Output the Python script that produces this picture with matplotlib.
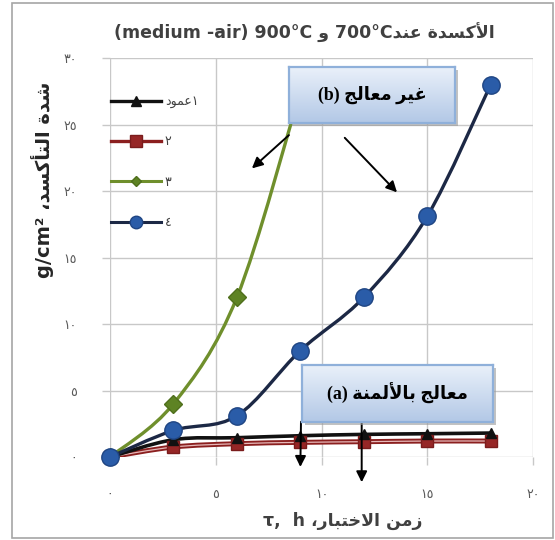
import numpy as np
import matplotlib
matplotlib.use("Agg")
import matplotlib.pyplot as plt
from matplotlib.path import Path
from matplotlib.patches import PathPatch, Rectangle
from matplotlib.lines import Line2D

# --- data ---
hours = [0, 3, 6, 9, 12, 15, 18]
s1 = [0, 1.3, 1.45, 1.6, 1.7, 1.75, 1.8]      # عمود١
s2 = [0, 0.75, 1.0, 1.1, 1.15, 1.2, 1.2]      # ٢
s3_hours = [0, 3, 6, 9]
s3 = [0, 4.0, 12.0, 27.5]                     # ٣
s4 = [0, 2.0, 3.1, 8.0, 12.0, 18.1, 28.0]     # ٤

legend_labels = ["عمود", "٢", "٣", "٤"]
xticks = [0, 5, 10, 15, 20]
yticks = [0, 5, 10, 15, 20, 25, 30]
xtick_labels = ["٠", "٥", "١٠", "١٥", "٢٠"]
ytick_labels = ["٠", "٥", "١٠", "١٥", "٢٠", "٢٥", "٣٠"]

# --- minimal arabic shaping (matplotlib has no bidi/shaping) ---
FORMS = {
    "ا": ("\uFE8D", "\uFE8E", None, None),
    "أ": ("\uFE83", "\uFE84", None, None),
    "ب": ("\uFE8F", "\uFE90", "\uFE91", "\uFE92"),
    "ة": ("\uFE93", "\uFE94", None, None),
    "ت": ("\uFE95", "\uFE96", "\uFE97", "\uFE98"),
    "ج": ("\uFE9D", "\uFE9E", "\uFE9F", "\uFEA0"),
    "خ": ("\uFEA5", "\uFEA6", "\uFEA7", "\uFEA8"),
    "د": ("\uFEA9", "\uFEAA", None, None),
    "ر": ("\uFEAD", "\uFEAE", None, None),
    "ز": ("\uFEAF", "\uFEB0", None, None),
    "س": ("\uFEB1", "\uFEB2", "\uFEB3", "\uFEB4"),
    "ش": ("\uFEB5", "\uFEB6", "\uFEB7", "\uFEB8"),
    "ع": ("\uFEC9", "\uFECA", "\uFECB", "\uFECC"),
    "غ": ("\uFECD", "\uFECE", "\uFECF", "\uFED0"),
    "ك": ("\uFED9", "\uFEDA", "\uFEDB", "\uFEDC"),
    "ل": ("\uFEDD", "\uFEDE", "\uFEDF", "\uFEE0"),
    "م": ("\uFEE1", "\uFEE2", "\uFEE3", "\uFEE4"),
    "ن": ("\uFEE5", "\uFEE6", "\uFEE7", "\uFEE8"),
    "و": ("\uFEED", "\uFEEE", None, None),
    "ي": ("\uFEF1", "\uFEF2", "\uFEF3", "\uFEF4"),
}
LAM_ALEF = {"ا": ("\uFEFB", "\uFEFC"), "أ": ("\uFEF7", "\uFEF8")}


def dual(c):
    return c in FORMS and FORMS[c][2] is not None


def shape(s):
    out = []
    i = 0
    while i < len(s):
        c = s[i]
        if c not in FORMS:
            out.append(c)
            i += 1
            continue
        jp = i > 0 and dual(s[i - 1])
        if c == "ل" and i + 1 < len(s) and s[i + 1] in LAM_ALEF:
            iso, fin = LAM_ALEF[s[i + 1]]
            out.append(fin if jp else iso)
            i += 2
            continue
        jn = dual(c) and i + 1 < len(s) and s[i + 1] in FORMS
        iso, fin, ini, med = FORMS[c]
        out.append(med if jp and jn else fin if jp else ini if jn else iso)
        i += 1
    return "".join(out)


def ar(s):
    return shape(s)[::-1]


def smooth_line(ax, x, y, **kw):
    # catmull-rom through the points, as cubic bezier segments
    p = np.column_stack([x, y]).astype(float)
    verts = [p[0]]
    codes = [Path.MOVETO]
    n = len(p)
    for i in range(n - 1):
        p0 = p[i - 1] if i > 0 else p[i]
        p3 = p[i + 2] if i + 2 < n else p[i + 1]
        c1 = p[i] + (p[i + 1] - p0) / 6
        c2 = p[i + 1] - (p3 - p[i]) / 6
        verts += [c1, c2, p[i + 1]]
        codes += [Path.CURVE4] * 3
    patch = PathPatch(Path(verts, codes), fill=False, capstyle="round", **kw)
    ax.add_patch(patch)
    return patch


W, H = 555, 540
fig = plt.figure(figsize=(W / 100, H / 100), dpi=100)
plt.rcParams["font.family"] = ["DejaVu Sans"]

# outer frame
fig.patches.append(Rectangle((12 / W, 1 - 538 / H), 541 / W, 535 / H, transform=fig.transFigure,
                             fill=False, ec="#a6a6a6", lw=1.2, zorder=0))

ax = fig.add_axes([110 / W, 1 - 457 / H, 423 / W, 399 / H])
ax.set_zorder(1)
ax.set_xlim(0, 20)
ax.set_ylim(0, 30)
for sp in ax.spines.values():
    sp.set_visible(False)
ax.set_xticks(xticks)
ax.set_xticklabels(xtick_labels)
ax.set_yticks(yticks)
ax.set_yticklabels(ytick_labels)
ax.grid(True, color="#c8c8c8", lw=1.0)
ax.tick_params(colors="#c8c8c8", labelcolor="#595959", labelsize=9, length=6, width=1.0)
ax.tick_params(axis="y", pad=18)
ax.tick_params(axis="x", pad=16)
ax.set_axisbelow(True)

# lines
smooth_line(ax, hours, s2, ec="#8b1f1f", lw=3.6, zorder=3)
smooth_line(ax, hours, s2, ec="#e6b8b8", lw=0.9, zorder=3.1)
smooth_line(ax, hours, s1, ec="#111111", lw=2.6, zorder=3.2)
smooth_line(ax, s3_hours, s3, ec="#6f8f2c", lw=2.4, zorder=3.3)
smooth_line(ax, hours, s4, ec="#1c2845", lw=2.4, zorder=3.4)

# markers
ax.plot(hours, s2, ls="none", marker="s", ms=9, mfc="#962626", mec="#7a1c1c", zorder=4, clip_on=False)
ax.plot(hours, s1, ls="none", marker="^", ms=7, mfc="#111111", mec="#111111", zorder=4.1, clip_on=False)
ax.plot(s3_hours[:3], s3[:3], ls="none", marker="D", ms=9.5, mfc="#5e8324", mec="#4f6f1c", zorder=4.2)
ax.plot(hours, s4, ls="none", marker="o", ms=12.5, mfc="#2a5ca8", mec="#1f4583", mew=1, zorder=4.3,
        clip_on=False)

handles = [
    Line2D([], [], color="#111111", lw=2.4, marker="^", ms=7, mfc="#111111"),
    Line2D([], [], color="#8b1f1f", lw=2.4, marker="s", ms=8, mfc="#962626", mec="#7a1c1c"),
    Line2D([], [], color="#6f8f2c", lw=2.2, marker="D", ms=5, mfc="#5e8324", mec="#4f6f1c"),
    Line2D([], [], color="#1c2845", lw=2.2, marker="o", ms=9, mfc="#2a5ca8", mec="#1f4583"),
]
labels = [ar(legend_labels[0]) + "١"] + legend_labels[1:]
ax.legend(handles, labels, loc="upper left", bbox_to_anchor=(111 / W, 1 - 95 / H),
          bbox_transform=fig.transFigure, frameon=False, fontsize=9, handlelength=4.0,
          handletextpad=0.3, labelspacing=2.18, borderpad=0, borderaxespad=0,
          labelcolor="#404040")

# arrows
arrow_kw = dict(arrowstyle="-|>", color="black", lw=1.4, mutation_scale=16, shrinkA=0, shrinkB=0)
ax.annotate("", xy=(6.71, 21.7), xytext=(8.46, 24.2), arrowprops=arrow_kw, annotation_clip=False, zorder=6)
ax.annotate("", xy=(13.57, 19.9), xytext=(11.1, 24.0), arrowprops=arrow_kw, annotation_clip=False, zorder=6)
ax.annotate("", xy=(9.0, -0.75), xytext=(9.03, 2.65), arrowprops=arrow_kw, annotation_clip=False, zorder=6)
ax.annotate("", xy=(11.9, -1.9), xytext=(11.9, 2.65), arrowprops=arrow_kw, annotation_clip=False, zorder=6)


def note_box(x0, y0, x1, y1, text):
    # soft drop shadow under the box
    fig.patches.append(Rectangle(((x0 + 3) / W, 1 - (y1 + 3) / H), (x1 - x0) / W, (y1 - y0) / H,
                                 transform=fig.transFigure, fc="#9a9a9a", ec="none", alpha=0.6,
                                 zorder=2))
    bax = fig.add_axes([x0 / W, 1 - y1 / H, (x1 - x0) / W, (y1 - y0) / H])
    bax.set_zorder(3)
    grad = np.linspace(0, 1, 64)[:, None]
    cmap = matplotlib.colors.LinearSegmentedColormap.from_list("box", ["#eaf1fa", "#b3c8e6"])
    bax.imshow(grad, aspect="auto", cmap=cmap, extent=(0, 1, 1, 0))
    bax.set_xlim(0, 1)
    bax.set_ylim(1, 0)
    bax.set_xticks([])
    bax.set_yticks([])
    for sp in bax.spines.values():
        sp.set_color("#8fb0da")
        sp.set_linewidth(1.6)
    bax.text(0.5, 0.5, text, ha="center", va="center", fontsize=12.8, fontweight="bold",
             family=["Liberation Serif", "DejaVu Sans"], color="black")


note_box(289, 67, 455, 123, "(b) " + ar("غير معالج"))
note_box(302, 365, 493, 422, "(a) " + ar("معالج بالألمنة"))

# titles
fig.text(304 / W, 1 - 33 / H, "(medium -air) 900°C " + ar("و") + " 700°C" + ar("الأكسدة عند"),
         ha="center", va="center", fontsize=12.5, fontweight="bold", color="#404040")
fig.text(343 / W, 1 - 521 / H, "τ,  h " + ar("زمن الاختبار،"),
         ha="center", va="center", fontsize=12.5, fontweight="bold", color="#404040")
fig.text(43 / W, 1 - 180 / H, "g/cm² " + ar("شدة التأكسد،"), rotation=90,
         ha="center", va="center", fontsize=14, fontweight="bold", color="#262626")

fig.savefig("out.png", dpi=100)
